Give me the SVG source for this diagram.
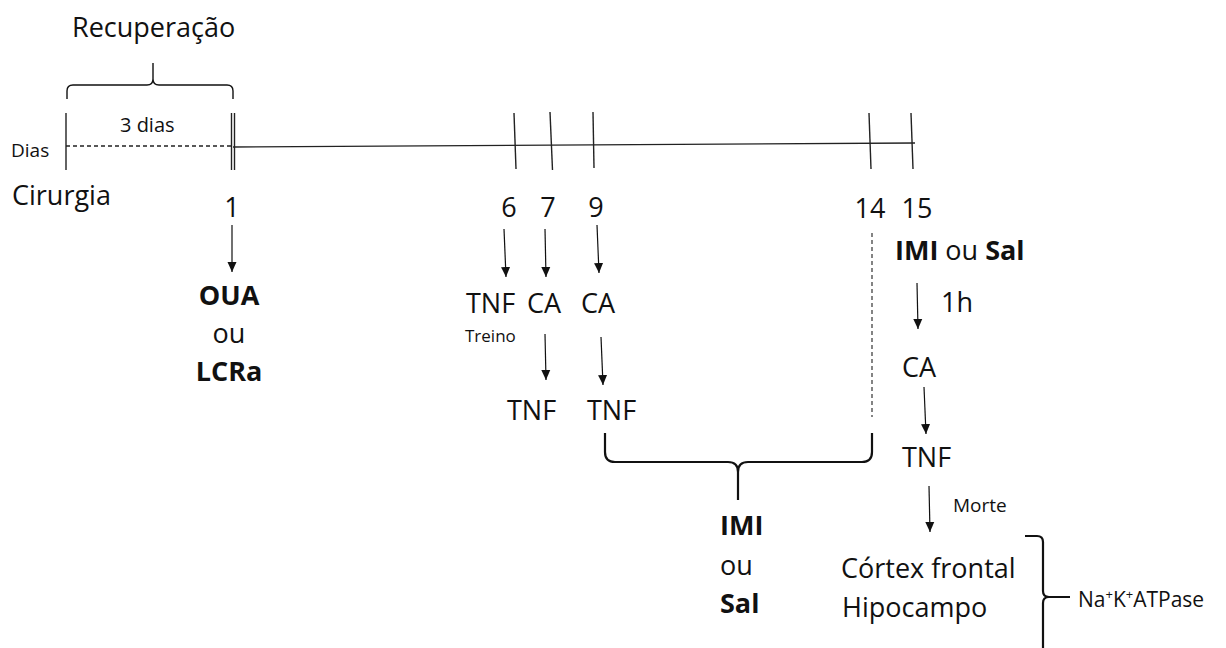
<svg xmlns="http://www.w3.org/2000/svg" width="1226" height="648" viewBox="0 0 1226 648">
<style>
text{font-family:"Open Sans","Noto Sans","Liberation Sans",sans-serif;fill:#111}
.m{font-size:27px}
.b{font-size:27px;font-weight:bold}
.s{font-size:17px}
.t{stroke:#222;stroke-width:1.4;fill:none}
.ar{stroke:#111;stroke-width:1.2;fill:none}
.br{stroke:#111;fill:none}
</style>
<defs>
<marker id="ah" markerUnits="userSpaceOnUse" markerWidth="12" markerHeight="12" refX="10" refY="5" orient="auto">
<path d="M0,0.5 L10,5 L0,9.5 Z" fill="#111"/>
</marker>
</defs>
<g id="timeline">
<line class="t" x1="66" y1="146" x2="233" y2="146" stroke-dasharray="4,3"/>
<line class="t" x1="233" y1="147" x2="915" y2="143"/>
<line class="t" x1="66" y1="113" x2="66" y2="170"/>
<line class="t" x1="231.5" y1="113" x2="231.5" y2="170"/>
<line class="t" x1="234.5" y1="113" x2="234.5" y2="170"/>
<line class="t" x1="514" y1="113" x2="516" y2="169"/>
<line class="t" x1="550" y1="112" x2="552.5" y2="170"/>
<line class="t" x1="593" y1="112" x2="594" y2="168"/>
<line class="t" x1="869" y1="113" x2="871" y2="169"/>
<line class="t" x1="911" y1="113" x2="913" y2="169"/>
</g>
<g id="recuperacao">
<text class="m" x="72" y="37">Recuperação</text>
<path class="br" stroke-width="1.4" d="M67,99 L67,91 Q67,85 73,85 L147,85 Q153,85 153,79 L153,63 M153,79 Q153,85 159,85 L227,85 Q233,85 233,91 L233,99"/>
<text x="120" y="132" font-size="20">3 dias</text>
</g>
<g id="dias"><text x="11" y="157" font-size="19">Dias</text></g>
<g id="cirurgia"><text class="m" x="12" y="205">Cirurgia</text></g>
<g id="d1">
<text class="m" x="232" y="217" text-anchor="middle">1</text>
<text class="b" x="229" y="305" text-anchor="middle">OUA</text>
<text class="m" x="229" y="343" text-anchor="middle">ou</text>
<text class="b" x="229" y="381" text-anchor="middle">LCRa</text>
</g>
<g id="d6">
<text class="m" x="509" y="217" text-anchor="middle">6</text>
<text class="m" x="466" y="313">TNF</text>
<text class="s" x="465" y="342">Treino</text>
</g>
<g id="d7">
<text class="m" x="548" y="217" text-anchor="middle">7</text>
<text class="m" x="527" y="313">CA</text>
<text class="m" x="507" y="420">TNF</text>
</g>
<g id="d9">
<text class="m" x="596" y="217" text-anchor="middle">9</text>
<text class="m" x="581" y="313">CA</text>
<text class="m" x="587" y="420">TNF</text>
</g>
<g id="d14"><text class="m" x="870" y="218" text-anchor="middle">14</text></g>
<g id="d15">
<text class="m" x="917" y="218" text-anchor="middle">15</text>
<text class="m" x="895" y="260"><tspan font-weight="bold">IMI</tspan> ou <tspan font-weight="bold">Sal</tspan></text>
<text class="m" x="941" y="312">1h</text>
<text class="m" x="902" y="377">CA</text>
<text class="m" x="902" y="467">TNF</text>
<text x="953" y="512" font-size="19">Morte</text>
<text class="m" x="841" y="578">Córtex frontal</text>
<text class="m" x="842" y="617">Hipocampo</text>
</g>
<g id="imi">
<path class="br" stroke-width="2.2" d="M605,433 L605,452 Q605,462 615,462 L728,462 Q738,462 738,472 L738,500 M738,472 Q738,462 748,462 L862,462 Q872,462 872,452 L872,433"/>
<text class="b" x="720" y="535">IMI</text>
<text class="m" x="720" y="575">ou</text>
<text class="b" x="720" y="613">Sal</text>
</g>
<g id="atpase">
<path class="br" stroke-width="2.2" d="M1025,536 L1037,536 Q1043,536 1043,542 L1043,591 Q1043,597 1049,597 L1070,597 M1049,597 Q1043,597 1043,603 L1043,648"/>
<text x="1078" y="607" font-size="21">Na<tspan font-size="13" dy="-8">+</tspan><tspan dy="8">K</tspan><tspan font-size="13" dy="-8">+</tspan><tspan dy="8">ATPase</tspan></text>
</g>
<g id="connectors">
<line class="ar" x1="232" y1="225" x2="232" y2="272" marker-end="url(#ah)"/>
<line class="ar" x1="504" y1="229" x2="506" y2="277" marker-end="url(#ah)"/>
<line class="ar" x1="545" y1="229" x2="546" y2="277" marker-end="url(#ah)"/>
<line class="ar" x1="597" y1="225" x2="599" y2="273" marker-end="url(#ah)"/>
<line class="ar" x1="545" y1="334" x2="546" y2="380" marker-end="url(#ah)"/>
<line class="ar" x1="601" y1="337" x2="603" y2="385" marker-end="url(#ah)"/>
<line class="ar" x1="917" y1="283" x2="918" y2="329" marker-end="url(#ah)"/>
<line class="ar" x1="924" y1="387" x2="926" y2="434" marker-end="url(#ah)"/>
<line class="ar" x1="929" y1="486" x2="930" y2="532" marker-end="url(#ah)"/>
<line x1="872" y1="233" x2="872" y2="417" stroke="#333" stroke-width="1.2" stroke-dasharray="4,3"/>
</g>
</svg>
